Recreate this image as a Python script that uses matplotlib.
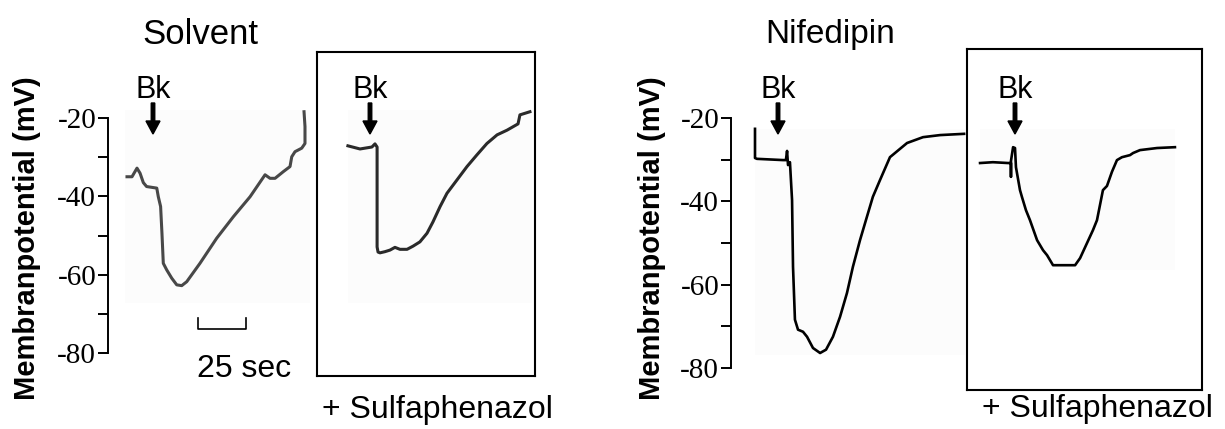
import matplotlib
matplotlib.use("Agg")
import matplotlib.pyplot as plt
from matplotlib.patches import FancyArrow, Rectangle
from matplotlib.transforms import IdentityTransform

plt.rcParams['axes.unicode_minus'] = False

# ---------------- data (time in s, membrane potential in mV) ----------------
solvent_t = [9.9, 12.5, 15.1, 16.7, 18.4, 20.1, 25.4, 26.2, 27.4, 28.1, 28.8, 30.6,
             33.2, 35.8, 38.4, 41.0, 47.9, 56.6, 65.3, 74.0, 81.8, 84.4, 87.0, 91.3,
             94.8, 95.7, 97.4, 100.9, 102.6, 102.6, 102.1]
solvent_v = [-35.0, -35.0, -32.8, -34.1, -36.5, -37.5, -37.9, -40.1, -42.6, -49.4, -57.1, -58.8,
             -60.9, -62.6, -62.8, -61.8, -57.1, -50.7, -45.2, -40.1, -34.5, -35.4, -35.4, -33.7,
             -32.4, -29.9, -28.6, -27.7, -26.5, -22.2, -18.4]

solv_sulfa_t = [16.1, 22.4, 28.6, 30.2, 31.3, 31.3, 31.8, 32.8, 35.4, 38.0, 40.6, 43.2, 46.9,
                50.0, 53.6, 57.3, 60.4, 64.1, 67.7, 72.9, 78.1, 83.3, 88.5, 93.8, 99.0,
                104.7, 105.7, 110.9]
solv_sulfa_v = [-27.1, -27.9, -27.4, -26.6, -27.4, -52.9, -54.2, -54.4, -54.1, -53.7, -53.0, -53.5, -53.5,
                -52.7, -51.6, -49.4, -46.5, -42.6, -39.2, -35.8, -32.4, -29.4, -26.5, -24.3, -23.1,
                -21.5, -19.2, -18.4]

nifed_t = [12.5, 12.5, 13.5, 27.1, 28.6, 29.2, 29.7, 30.7, 31.8, 32.3, 33.3, 34.9, 37.5, 39.6,
           42.7, 46.4, 49.5, 53.1, 56.8, 60.4, 63.5, 67.2, 70.8, 73.9, 77.6, 82.8, 91.7,
           100.0, 108.9, 121.4]
nifed_v = [-22.6, -29.6, -29.8, -30.1, -30.1, -27.9, -31.3, -30.6, -39.7, -55.7, -68.4, -70.8, -71.3, -72.5,
           -75.2, -76.4, -75.6, -72.5, -67.7, -62.0, -55.7, -49.3, -43.7, -38.9, -34.9, -29.4, -26.0,
           -24.6, -24.1, -23.8]

nif_sulfa_t = [6.8, 13.5, 21.4, 22.9, 22.9, 22.9, 24.0, 25.0, 25.5, 27.6, 28.6, 30.7, 32.8, 36.5,
               39.6, 41.7, 44.8, 56.3, 58.9, 62.5, 65.6, 67.7, 70.8, 72.9, 75.5, 78.1, 80.7,
               84.9, 86.5, 90.1, 99.0, 108.3]
nif_sulfa_v = [-30.8, -30.6, -30.8, -30.8, -34.1, -30.3, -27.0, -27.2, -31.8, -37.3, -38.9, -42.1, -44.5, -49.3,
               -51.7, -52.9, -55.3, -55.3, -53.6, -50.0, -46.9, -44.5, -37.3, -36.3, -32.9, -30.1, -29.4,
               -28.9, -28.4, -27.7, -27.2, -27.0]

major_ticks = [-20, -40, -60, -80]
minor_ticks = [-30, -50, -70]
tick_labels = ['-20', '-40', '-60', '-80']
scale_bar_sec = 25
scale_bar_start = 47

# ---------------- layout helpers (pixel geometry) ----------------
W, H = 1225, 429
fig = plt.figure(figsize=(W / 100, H / 100), dpi=100)

def add_axes_px(l, t, r, b):
    return fig.add_axes([l / W, 1 - b / H, (r - l) / W, (b - t) / H])

SANS = 'Liberation Sans'
SERIF = ['Liberation Serif', 'DejaVu Serif']
PXS = 1.92          # pixels per second

def light_bg(l, t, r, b):
    fig.add_artist(Rectangle((l, H - b), r - l, b - t, transform=IdentityTransform(),
                             facecolor='#fcfcfc', edgecolor='none', zorder=0))

light_bg(125, 110, 310, 303)
light_bg(348, 110, 532, 303)
light_bg(755, 129, 965, 355)
light_bg(980, 129, 1175, 270)

def style_axis(ax):
    ax.patch.set_visible(False)
    for s in ['top', 'right', 'bottom']:
        ax.spines[s].set_visible(False)
    ax.spines['left'].set_linewidth(1.4)
    ax.set_xticks([])
    ax.set_yticks(major_ticks)
    ax.set_yticks(minor_ticks, minor=True)
    ax.set_yticklabels(tick_labels)
    ax.tick_params(axis='y', which='both', direction='out', length=7.5, width=1.4, pad=1,
                   labelsize=21, labelfontfamily=SERIF)

def style_box(ax):
    ax.patch.set_visible(False)
    for s in ax.spines.values():
        s.set_linewidth(1.5)
    ax.set_xticks([])
    ax.set_yticks([])

# Panel 1: Solvent
ax1 = add_axes_px(108, 118, 312, 353)
ax1.set_xlim(0, (312 - 108) / PXS)
ax1.set_ylim(-80, -20)
style_axis(ax1)
ax1.plot(solvent_t, solvent_v, color='#484848', lw=2.2, clip_on=False, solid_joinstyle='round')
ax1.plot([scale_bar_start, scale_bar_start, scale_bar_start + scale_bar_sec, scale_bar_start + scale_bar_sec],
         [-71.0, -73.8, -73.8, -71.0], color='black', lw=1.2, clip_on=False)

# Panel 2: Solvent + Sulfaphenazol
ax2 = add_axes_px(317, 52, 535, 376)
ax2.set_xlim(0, (535 - 317) / PXS)
ax2.set_ylim(-20 - (376 - 118) / 3.92, -20 + (118 - 52) / 3.92)
style_box(ax2)
ax2.plot(solv_sulfa_t, solv_sulfa_v, color='#2a2a2a', lw=2.2, clip_on=False, solid_joinstyle='round')

# Panel 3: Nifedipin
ax3 = add_axes_px(731, 118, 965, 368)
ax3.set_xlim(0, (965 - 731) / PXS)
ax3.set_ylim(-80, -20)
style_axis(ax3)
ax3.plot(nifed_t, nifed_v, color='black', lw=1.9, clip_on=False, solid_joinstyle='round')

# Panel 4: Nifedipin + Sulfaphenazol
ax4 = add_axes_px(967, 49, 1202, 390)
ax4.set_xlim(0, (1202 - 967) / PXS)
ax4.set_ylim(-20 - (390 - 118) / 4.17, -20 + (118 - 49) / 4.17)
style_box(ax4)
ax4.plot(nif_sulfa_t, nif_sulfa_v, color='black', lw=1.9, clip_on=False, solid_joinstyle='round')

# ---------------- texts ----------------
def ftext(px, py, s, **kw):
    fig.text(px / W, 1 - py / H, s, **kw)

ftext(200, 44, 'Solvent', ha='center', va='baseline', fontsize=25, family=SANS)
ftext(830, 43, 'Nifedipin', ha='center', va='baseline', fontsize=24, family=SANS)
ftext(27, 238, 'Membranpotential (mV)', ha='center', va='center', rotation=90,
      fontsize=21, fontweight='bold', family=SANS)
ftext(652, 238, 'Membranpotential (mV)', ha='center', va='center', rotation=90,
      fontsize=21, fontweight='bold', family=SANS)
ftext(244, 377, '25 sec', ha='center', va='baseline', fontsize=23, family=SANS)
ftext(437, 418, '+ Sulfaphenazol', ha='center', va='baseline', fontsize=23, family=SANS)
ftext(1097, 417, '+ Sulfaphenazol', ha='center', va='baseline', fontsize=23, family=SANS)

for bx in [153, 370, 778, 1015]:
    ftext(bx, 98, 'Bk', ha='center', va='baseline', fontsize=22, family=SANS)
    fig.add_artist(FancyArrow(bx, H - 103, 0, -31, width=3.5, head_width=14, head_length=13,
                              length_includes_head=True, color='black',
                              transform=IdentityTransform()))

fig.savefig('out.png', dpi=100)
